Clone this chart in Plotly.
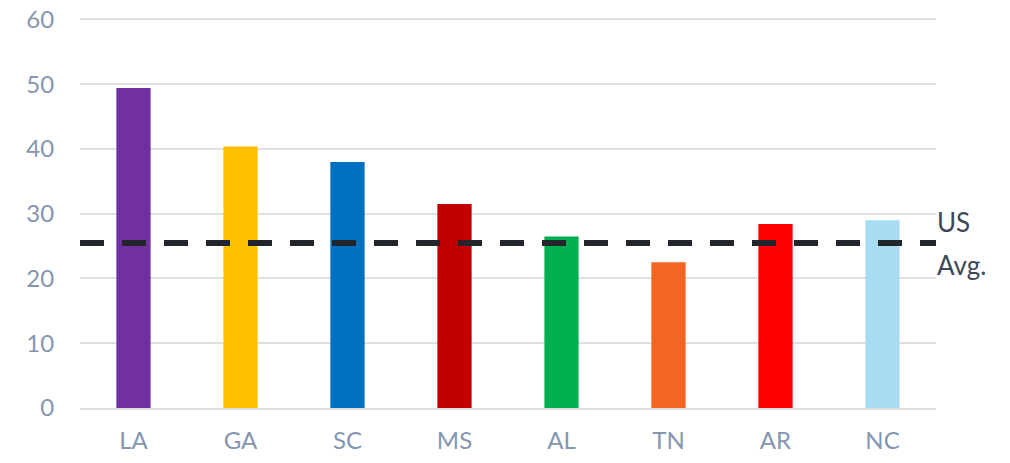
import plotly.graph_objects as go

states = ["LA", "GA", "SC", "MS", "AL", "TN", "AR", "NC"]
values = [49.4, 40.4, 38.0, 31.5, 26.5, 22.5, 28.4, 29.0]
colors = ["#7030a0", "#ffc000", "#0070c0", "#c00000", "#00b050", "#f26522", "#ff0000", "#a8dcf2"]
us_avg = 25.5
us_avg_label = ["US", "Avg."]
y_ticks = [0, 10, 20, 30, 40, 50, 60]

font_family = "Lato, 'Open Sans', sans-serif"
tick_color = "#8496b0"
grid_color = "#dde1e6"

fig = go.Figure()
fig.add_trace(go.Bar(
    x=states, y=values, marker=dict(color=colors, line=dict(width=0)),
    width=0.32, showlegend=False, hoverinfo="x+y",
))

fig.add_shape(type="line", xref="paper", x0=0, x1=1, yref="y", y0=us_avg, y1=us_avg,
              line=dict(color="#22252b", width=6, dash="24px,18px"), layer="above")

fig.add_annotation(xref="paper", x=1, yref="y", y=us_avg, text=us_avg_label[0],
                   showarrow=False, xanchor="left", yanchor="middle", xshift=-1, yshift=21,
                   font=dict(family=font_family, size=26, color="#3e4757"))
fig.add_annotation(xref="paper", x=1, yref="y", y=us_avg, text=us_avg_label[1],
                   showarrow=False, xanchor="left", yanchor="middle", xshift=-1, yshift=-22,
                   font=dict(family=font_family, size=26, color="#3e4757"))

fig.update_layout(
    width=1010, height=463,
    margin=dict(l=80, r=74, t=13, b=55, autoexpand=False),
    paper_bgcolor="white", plot_bgcolor="white",
    font=dict(family=font_family, size=24, color=tick_color),
    bargap=0.68,
    xaxis=dict(showgrid=False, showline=True, linecolor=grid_color, linewidth=2,
               ticks="outside", ticklen=10, tickcolor="rgba(0,0,0,0)", automargin=False,
               tickfont=dict(size=24, color=tick_color), fixedrange=True),
    yaxis=dict(range=[0, 61], tickvals=y_ticks, showgrid=True, gridcolor=grid_color, gridwidth=2,
               zeroline=False, showline=False, automargin=False,
               ticks="outside", ticklen=20, tickcolor="rgba(0,0,0,0)",
               tickfont=dict(size=24, color=tick_color), fixedrange=True),
)

fig.write_html("out.html")
